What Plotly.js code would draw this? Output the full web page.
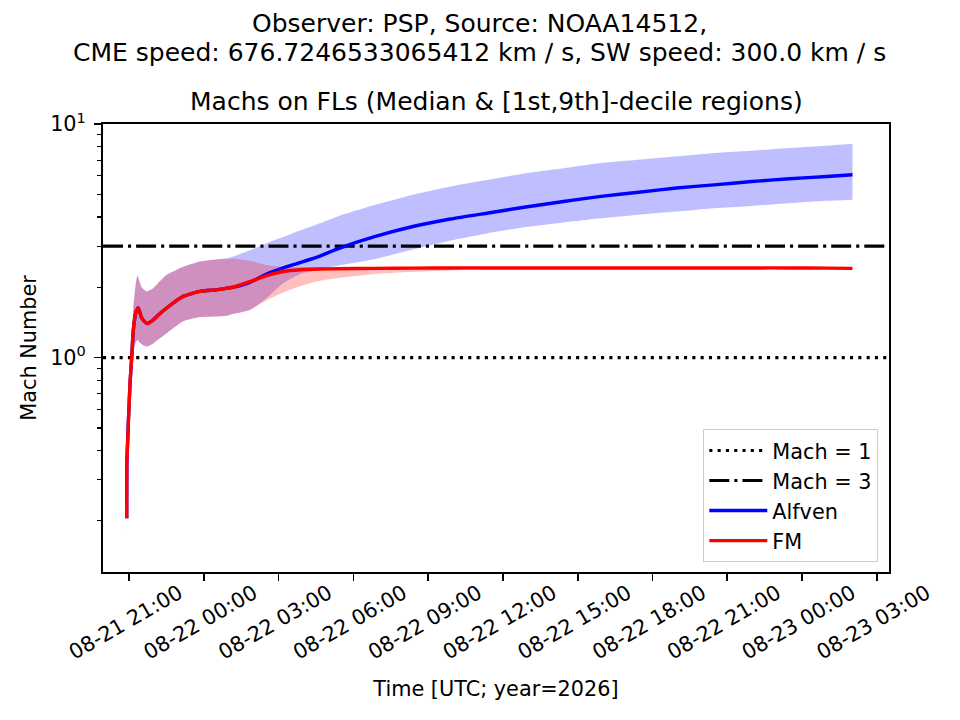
<!DOCTYPE html>
<html>
<head>
<meta charset="utf-8">
<script src="https://cdn.plot.ly/plotly-3.0.1.min.js"></script>
<style>
  body { margin: 0; background: #fff; }
  #plot { width: 960px; height: 720px; }
</style>
</head>
<body>
<div id="plot"></div>
<script>
// sample times (UTC, year 2026)
let times = [
  '2026-08-21 20:54:30', '2026-08-21 20:55:00', '2026-08-21 21:02:30', '2026-08-21 21:06:30',
  '2026-08-21 21:10:20', '2026-08-21 21:16:50', '2026-08-21 21:20:30', '2026-08-21 21:22:20',
  '2026-08-21 21:30:30', '2026-08-21 21:42:40', '2026-08-21 21:58:30', '2026-08-21 22:06:40',
  '2026-08-21 22:30:40', '2026-08-21 23:10:40', '2026-08-21 23:50:50', '2026-08-22 00:31:00',
  '2026-08-22 00:55:10', '2026-08-22 01:11:00', '2026-08-22 01:51:10', '2026-08-22 02:31:20',
  '2026-08-22 03:11:20', '2026-08-22 03:51:30', '2026-08-22 04:39:40', '2026-08-22 05:22:00',
  '2026-08-22 06:52:50', '2026-08-22 08:23:30', '2026-08-22 09:53:50', '2026-08-22 11:24:30',
  '2026-08-22 12:55:00', '2026-08-22 14:25:40', '2026-08-22 15:56:10', '2026-08-22 17:26:40',
  '2026-08-22 18:57:30', '2026-08-22 20:28:00', '2026-08-22 21:58:30', '2026-08-22 23:29:10',
  '2026-08-23 00:59:40', '2026-08-23 02:01:15'
]

// Alfven Mach: median, 1st and 9th decile
let alfvenMed = [0.205, 0.36, 0.78, 1.00, 1.31, 1.57, 1.62, 1.63, 1.48, 1.40, 1.45, 1.50,
  1.63, 1.83, 1.92, 1.95, 1.98, 2.00, 2.10, 2.28, 2.42, 2.55, 2.72, 2.92, 3.30, 3.64,
  3.92, 4.16, 4.41, 4.66, 4.90, 5.10, 5.32, 5.49, 5.67, 5.83, 5.96, 6.06]
let alfvenLo = [0.15, 0.26, 0.68, 0.90, 1.05, 1.17, 1.19, 1.18, 1.14, 1.115, 1.15, 1.18,
  1.27, 1.43, 1.49, 1.50, 1.51, 1.54, 1.60, 1.80, 2.08, 2.28, 2.38, 2.47, 2.64, 2.90,
  3.17, 3.41, 3.62, 3.79, 3.95, 4.09, 4.22, 4.36, 4.46, 4.58, 4.69, 4.74]
let alfvenHi = [0.21, 0.40, 0.88, 1.15, 1.62, 2.10, 2.25, 2.20, 2.00, 1.92, 1.98, 2.05,
  2.26, 2.45, 2.58, 2.63, 2.66, 2.71, 2.88, 3.09, 3.28, 3.50, 3.76, 4.02, 4.51, 4.98,
  5.40, 5.77, 6.16, 6.47, 6.81, 7.03, 7.27, 7.52, 7.69, 7.90, 8.08, 8.21]

// fast-magnetosonic Mach: median, 1st and 9th decile
let fmMed = [0.205, 0.36, 0.78, 1.00, 1.31, 1.57, 1.62, 1.63, 1.48, 1.40, 1.45, 1.50,
  1.63, 1.83, 1.92, 1.95, 1.98, 2.00, 2.116, 2.245, 2.335, 2.377, 2.395, 2.40, 2.41, 2.415,
  2.42, 2.42, 2.42, 2.42, 2.42, 2.42, 2.42, 2.42, 2.42, 2.42, 2.415, 2.41]
let fmLo = [0.15, 0.26, 0.68, 0.90, 1.05, 1.17, 1.19, 1.18, 1.14, 1.115, 1.15, 1.18,
  1.27, 1.43, 1.49, 1.50, 1.51, 1.54, 1.60, 1.76, 1.90, 2.02, 2.13, 2.19, 2.28, 2.33,
  2.36, 2.38, 2.39, 2.40, 2.40, 2.40, 2.40, 2.40, 2.40, 2.40, 2.40, 2.40]
let fmHi = [0.21, 0.40, 0.88, 1.15, 1.62, 2.10, 2.25, 2.20, 2.00, 1.92, 1.98, 2.05,
  2.26, 2.45, 2.58, 2.63, 2.64, 2.65, 2.60, 2.49, 2.45, 2.44, 2.44, 2.44, 2.44, 2.44,
  2.44, 2.44, 2.44, 2.44, 2.44, 2.44, 2.44, 2.44, 2.44, 2.44, 2.43, 2.43]

let machLevels = [1, 3]
let machNames = ['Mach = 1', 'Mach = 3']
let machDash = ['3.1px,5.2px', '20px,5px,3.1px,5px']

let xRange = ['2026-08-21 19:57:24', '2026-08-23 03:29:10']
let yTickVals = [1, 10]
let yTickText = ['10<sup>0</sup>', '10<sup>1</sup>']
let yMinorVals = [0.2, 0.3, 0.4, 0.5, 0.6, 0.7, 0.8, 0.9, 2, 3, 4, 5, 6, 7, 8, 9]

let font = 'DejaVu Sans, Arial, sans-serif'

function band(lo, hi, color) {
  let lower = {
    x: times, y: lo, mode: 'lines', type: 'scatter',
    line: {width: 0, shape: 'spline', smoothing: 0.5}, showlegend: false, hoverinfo: 'skip'
  }
  let upper = {
    x: times, y: hi, mode: 'lines', type: 'scatter',
    line: {width: 0, shape: 'spline', smoothing: 0.5}, fill: 'tonexty', fillcolor: color,
    showlegend: false, hoverinfo: 'skip'
  }
  return [lower, upper]
}

let data = []
data = data.concat(band(alfvenLo, alfvenHi, 'rgba(0,0,255,0.25)'))
data = data.concat(band(fmLo, fmHi, 'rgba(255,0,0,0.25)'))

for (let i = 0; i < machLevels.length; i++) {
  data.push({
    x: xRange, y: [machLevels[i], machLevels[i]],
    mode: 'lines', type: 'scatter', name: machNames[i],
    line: {color: 'black', width: 3.1, dash: machDash[i]}
  })
}

data.push({
  x: times, y: alfvenMed, mode: 'lines', type: 'scatter', name: 'Alfven',
  line: {color: 'blue', width: 3.4, shape: 'spline', smoothing: 0.5}
})
data.push({
  x: times, y: fmMed, mode: 'lines', type: 'scatter', name: 'FM',
  line: {color: 'red', width: 3.4, shape: 'spline', smoothing: 0.5}
})

let layout = {
  width: 960, height: 720,
  margin: {l: 103, r: 71, t: 124, b: 148},
  paper_bgcolor: 'white', plot_bgcolor: 'white',
  font: {family: font, size: 20.8, color: 'black'},
  showlegend: true,
  legend: {
    traceorder: 'normal', itemwidth: 58,
    x: 0.986, xanchor: 'right', y: 0.022, yanchor: 'bottom',
    bgcolor: 'rgba(255,255,255,0.8)', bordercolor: '#cccccc', borderwidth: 1.3,
    font: {family: font, size: 20.8, color: 'black'}
  },
  xaxis: {
    type: 'date', range: xRange,
    tick0: '2026-08-21 00:00:00', dtick: 3 * 3600 * 1000,
    tickformat: '%m-%d %H:%M', tickangle: -30, ticklabelshift: 50,
    ticklabelstandoff: -8,
    ticks: 'outside', ticklen: 7.3, tickwidth: 1.67, tickcolor: 'black',
    showline: true, linecolor: 'black', linewidth: 1.67, mirror: true,
    showgrid: false, zeroline: false,
    title: {text: 'Time [UTC; year=2026]', font: {size: 20.8}, standoff: 18}
  },
  yaxis: {
    type: 'log', range: [-0.918, 1.0],
    tickmode: 'array', tickvals: yTickVals, ticktext: yTickText,
    ticks: 'outside', ticklen: 7.3, tickwidth: 1.67, tickcolor: 'black',
    ticklabelstandoff: 4,
    minor: {tickmode: 'array', tickvals: yMinorVals, ticks: 'outside',
      ticklen: 4.2, tickwidth: 1.25, tickcolor: 'black', showgrid: false},
    showline: true, linecolor: 'black', linewidth: 1.67, mirror: true,
    showgrid: false, zeroline: false,
    title: {text: 'Mach Number', font: {size: 20.8}, standoff: 8}
  },
  annotations: [
    {text: 'Observer: PSP, Source: NOAA14512,', xref: 'paper', yref: 'paper',
      x: 0.4796, y: 1.2235, xanchor: 'center', yanchor: 'middle', showarrow: false,
      font: {family: font, size: 25}},
    {text: 'CME speed: 676.7246533065412 km / s, SW speed: 300.0 km / s', xref: 'paper', yref: 'paper',
      x: 0.4796, y: 1.1587, xanchor: 'center', yanchor: 'middle', showarrow: false,
      font: {family: font, size: 25}},
    {text: 'Machs on FLs (Median &amp; [1st,9th]-decile regions)', xref: 'paper', yref: 'paper',
      x: 0.5, y: 1.0497, xanchor: 'center', yanchor: 'middle', showarrow: false,
      font: {family: font, size: 25}}
  ]
}

Plotly.newPlot('plot', data, layout, {staticPlot: true})
</script>
</body>
</html>
